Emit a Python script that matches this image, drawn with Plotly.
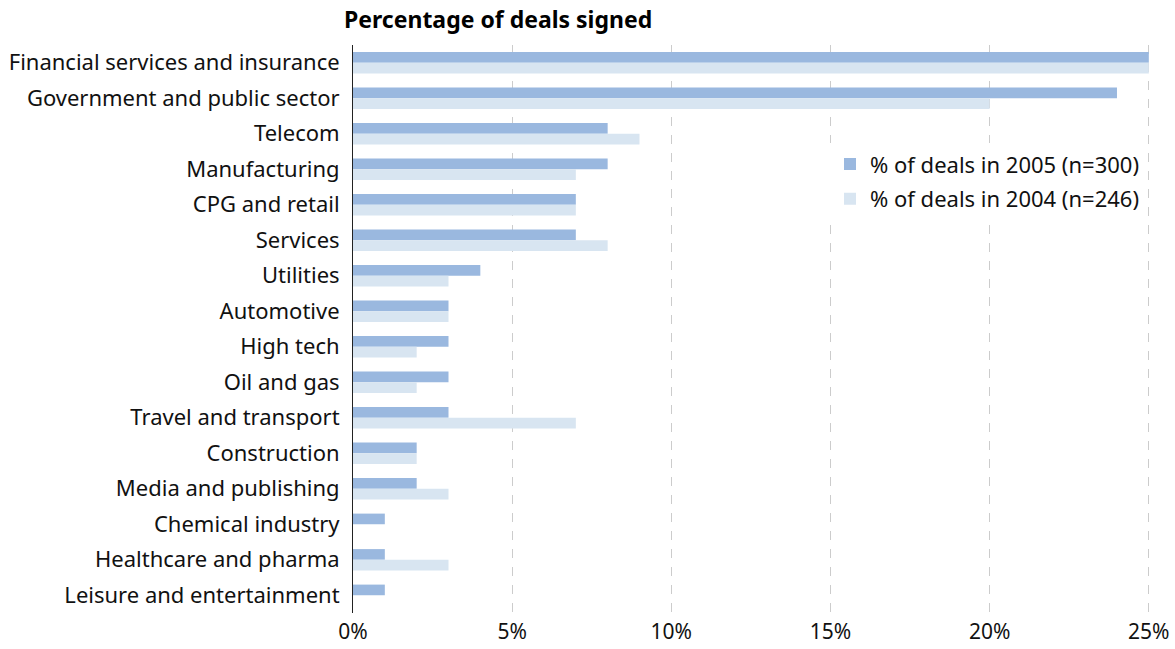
import plotly.graph_objects as go

categories = [
    "Financial services and insurance",
    "Government and public sector",
    "Telecom",
    "Manufacturing",
    "CPG and retail",
    "Services",
    "Utilities",
    "Automotive",
    "High tech",
    "Oil and gas",
    "Travel and transport",
    "Construction",
    "Media and publishing",
    "Chemical industry",
    "Healthcare and pharma",
    "Leisure and entertainment",
]
deals_2005 = [25, 24, 8, 8, 7, 7, 4, 3, 3, 3, 3, 2, 2, 1, 1, 1]
deals_2004 = [25, 20, 9, 7, 7, 8, 3, 3, 2, 2, 7, 2, 3, 0, 3, 0]
tick_vals = [0, 5, 10, 15, 20, 25]
tick_text = ["0%", "5%", "10%", "15%", "20%", "25%"]

FONT = "Noto Sans"

fig = go.Figure()
fig.add_trace(go.Bar(
    y=categories, x=deals_2005, orientation="h",
    name="% of deals in 2005 (n=300)", legendgroup="a",
    marker=dict(color="#9AB8DF", line=dict(width=0)),
))
fig.add_trace(go.Bar(
    y=categories, x=deals_2004, orientation="h",
    name="% of deals in 2004 (n=246)", legendgroup="b",
    marker=dict(color="#D8E5F1", line=dict(width=0)),
))

fig.update_layout(
    width=1175, height=649,
    margin=dict(l=353, r=23, t=45, b=36, autoexpand=False),
    paper_bgcolor="white", plot_bgcolor="white",
    barmode="group", bargap=0.4, bargroupgap=0,
    font=dict(family=FONT, size=22, color="#111111"),
    showlegend=True,
    legend=dict(
        x=0.597, y=0.827, xanchor="left", yanchor="top",
        bgcolor="white", borderwidth=0,
        font=dict(family=FONT, size=22, color="#111111"),
        traceorder="grouped", itemwidth=30,
        tracegroupgap=3,
    ),
    xaxis=dict(
        range=[0, 25.1], tickvals=tick_vals, ticktext=tick_text,
        showgrid=True, gridcolor="#cccccc", griddash="dash", gridwidth=1,
        zeroline=False, showline=False, ticks="",
        ticklabelstandoff=4, automargin=False,
        tickfont=dict(family=FONT, size=21, color="#111111"),
        fixedrange=True,
    ),
    yaxis=dict(
        autorange="reversed", showgrid=False, zeroline=False,
        showline=True, linecolor="#222222", linewidth=1,
        ticks="outside", ticklen=8, tickcolor="rgba(0,0,0,0)",
        automargin=False,
        tickfont=dict(family=FONT, size=22, color="#111111"),
        fixedrange=True,
    ),
    annotations=[dict(
        text="<b>Percentage of deals signed</b>",
        xref="paper", yref="paper", x=-0.014, y=1.045,
        xanchor="left", yanchor="middle", showarrow=False,
        font=dict(family=FONT, size=23, color="#000000"),
    )],
)

fig.write_html("out.html")
